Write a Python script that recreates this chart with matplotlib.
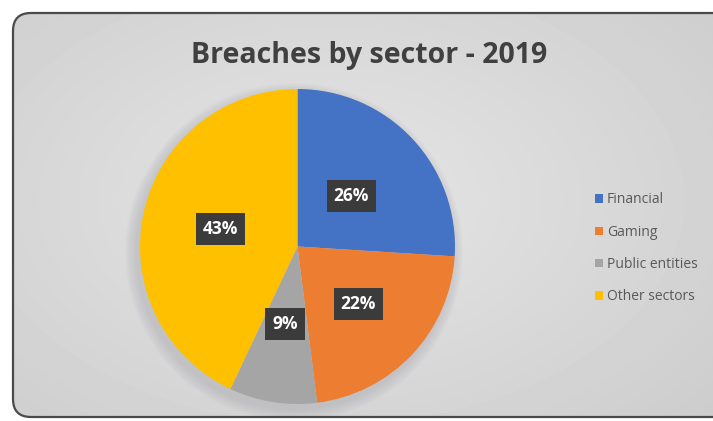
import numpy as np
import matplotlib.pyplot as plt
from matplotlib.patches import FancyBboxPatch, Circle

# data
sectors = ["Financial", "Gaming", "Public entities", "Other sectors"]
shares = [26, 22, 9, 43]
colors = ["#4472c4", "#ed7d31", "#a5a5a5", "#ffc000"]

W, H = 713, 421
fig = plt.figure(figsize=(W / 100, H / 100), dpi=100)
fig.patch.set_facecolor("white")

# background panel with soft gradient
bg = fig.add_axes([0, 0, 1, 1])
bg.set_xlim(0, W)
bg.set_ylim(H, 0)
bg.axis("off")
yy, xx = np.mgrid[0:H, 0:W]
grad = np.sqrt(((xx - 330) / 520.0) ** 2 + ((yy - 200) / 330.0) ** 2)
shade = 0.90 - 0.10 * np.clip(grad, 0, 1)
img = bg.imshow(shade, cmap="gray", vmin=0, vmax=1, extent=(0, W, H, 0), zorder=1)
panel = FancyBboxPatch((13, 13), W + 40, H - 17, boxstyle="round,pad=0,rounding_size=18",
                       facecolor="none", edgecolor="#4a4a4a", lw=1.6, zorder=3)
bg.add_patch(panel)
img.set_clip_path(panel)

# soft shadow under the pie
for k in range(10):
    c = Circle((294, 252), 157 + 12 - k * 1.2, color="#9a9aa2", alpha=0.035, lw=0, zorder=2)
    bg.add_patch(c)
    c.set_clip_path(panel)

fig.text(0.518, 1 - 63 / H, "Breaches by sector - 2019", ha="center", va="baseline",
         fontsize=20.5, fontweight="bold", color="#404040", family="Open Sans")

# pie
cx, cy, r = 297.5, 246.5, 157.5
ax = fig.add_axes([(cx - r) / W, (H - cy - r) / H, 2 * r / W, 2 * r / H])
wedges, _ = ax.pie(shares, colors=colors, startangle=90, counterclock=False,
                   wedgeprops=dict(linewidth=0))
ax.set_xlim(-1, 1)
ax.set_ylim(-1, 1)

label_r = [0.47, 0.53, 0.5, 0.5]
ang = 90.0
for s, lr in zip(shares, label_r):
    mid = ang - s * 3.6 / 2
    ang -= s * 3.6
    x = lr * np.cos(np.radians(mid))
    y = lr * np.sin(np.radians(mid))
    ax.text(x, y, f"{s}%", ha="center", va="center", color="white", fontsize=12.5,
            fontweight="bold", family="Open Sans",
            bbox=dict(boxstyle="square,pad=0.4", facecolor="#3b3b3b", edgecolor="none"))

# legend
fig.legend(wedges, sectors, loc="center left", bbox_to_anchor=(0.817, 0.41),
           frameon=False, handlelength=0.55, handleheight=0.55,
           handletextpad=0.3, labelspacing=1.25, labelcolor="#595959",
           prop={"family": "Open Sans", "size": 10})

fig.savefig("out.png", dpi=100, facecolor="white")
